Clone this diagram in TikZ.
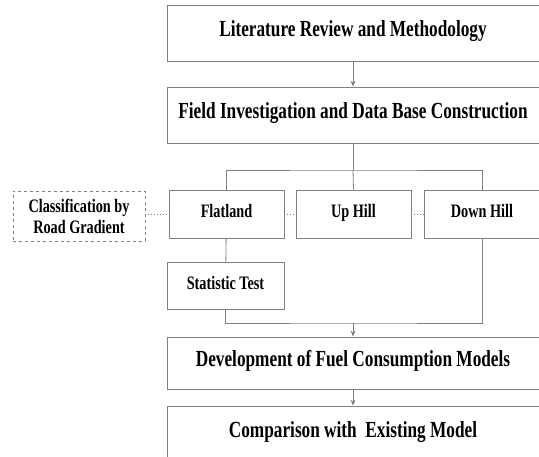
\documentclass[tikz,border=0pt]{standalone}
\usepackage{fontspec}
\setmainfont{Liberation Serif}[FakeStretch=0.75]
\usetikzlibrary{arrows.meta,shadows}
\definecolor{edgegray}{RGB}{128,128,128}
\tikzset{
  box/.style={draw=edgegray, fill=white, line width=0.8pt, align=center,
    text height=0.8em, text depth=0em,
    drop shadow={shadow xshift=1.2pt, shadow yshift=-1.2pt, opacity=0.25},
    font=\bfseries\fontsize{23}{25}\selectfont},
  bigbox/.style={box, minimum width=372pt, minimum height=56pt},
  smallbox/.style={box, minimum width=115pt, minimum height=48pt,
    font=\bfseries\fontsize{19}{21}\selectfont},
  dashbox/.style={draw=edgegray, dashed, line width=0.8pt, align=center,
    minimum width=132pt, minimum height=50pt,
    font=\bfseries\fontsize{19}{21}\selectfont},
  link/.style={draw=edgegray, line width=0.8pt},
  flow/.style={link, -{Stealth[length=6pt,width=5pt]}},
  dots/.style={draw=edgegray, line width=0.9pt, dotted}
}
\begin{document}
\begin{tikzpicture}[x=1pt,y=-1pt]
\useasboundingbox (0,0) rectangle (539,457);
% main column
\node[bigbox] (lit) at (353,33) {Literature Review and Methodology};
\node[bigbox] (field) at (353,115) {Field Investigation and Data Base Construction};
\node[bigbox, minimum height=52pt] (dev) at (353,363) {Development of Fuel Consumption Models};
\node[bigbox] (comp) at (353,434) {Comparison with\ \ Existing Model};
% road gradient classes
\node[smallbox] (flat) at (226.5,214) {Flatland};
\node[smallbox] (up) at (353.5,214) {Up Hill};
\node[smallbox, minimum width=116pt] (down) at (482,214) {Down Hill};
\node[dashbox] (class) at (79,216) {Classification by\\Road Gradient};
\node[smallbox, minimum width=117pt, minimum height=47pt] (stat) at (225.5,285.5) {Statistic Test};
\coordinate (top) at (353,170);
\coordinate (bot) at (353,323);
% connectors
\draw[flow] (lit) -- (field);
\draw[link] (field) -- (top);
\draw[link] (flat.north) |- (top) -| (down.north);
\draw[link] (top) -- (up.north);
\draw[link] (flat) -- (stat);
\draw[link] (stat.south) |- (bot) -| (down.south);
\draw[flow] (bot) -- (dev);
\draw[flow] (dev) -- (comp);
\draw[dots] (class.east |- flat.west) -- (flat.west);
\draw[dots] (flat.east) -- (up.west);
\draw[dots] (up.east) -- (down.west);
\end{tikzpicture}
\end{document}
